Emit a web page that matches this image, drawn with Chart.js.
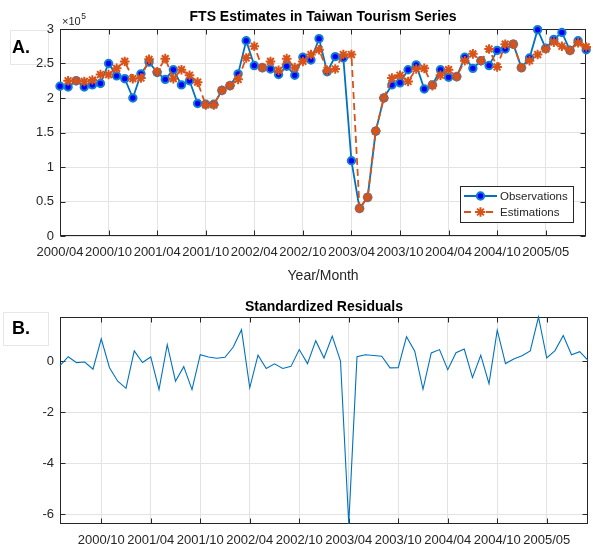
<!DOCTYPE html>
<html>
<head>
<meta charset="utf-8">
<title>FTS Estimates in Taiwan Tourism Series</title>
<script src="https://cdn.jsdelivr.net/npm/chart.js@4.4.1/dist/chart.umd.min.js"></script>
<style>
  html, body { margin: 0; padding: 0; background: #fff; }
  #wrap { position: relative; width: 593px; height: 548px; }
  canvas { position: absolute; left: 0; }
  #fts { top: 0; }
  #res { top: 290px; }
</style>
</head>
<body>
<div id="wrap">
  <canvas id="fts" width="593" height="290"></canvas>
  <canvas id="res" width="593" height="258"></canvas>
</div>
<script>
// Month index (0 = 2000/04) of each labelled tick, and its label
const tickPos = [0, 6, 12, 18, 24, 30, 36, 42, 48, 54, 60];
const tickLabels = ['2000/04', '2000/10', '2001/04', '2001/10', '2002/04', '2002/10',
                    '2003/04', '2003/10', '2004/04', '2004/10', '2005/05'];

// Monthly arrivals, observed (index 0..65)
const observations = [
  217000, 216000, 225000, 216000, 219000, 221000, 250000, 232000, 228000, 200000,
  235000, 252000, 237000, 227000, 241000, 219000, 225000, 192000, 191000, 191000,
  211000, 218000, 235000, 283000, 247000, 244000, 242000, 234000, 246000, 233000,
  259000, 255000, 286000, 238000, 260000, 258000, 109000, 40000, 56000, 152000,
  200000, 219000, 222000, 241000, 248000, 213000, 219000, 241000, 230000, 231000,
  259000, 243000, 254000, 247000, 269000, 271000, 278000, 244000, 258000, 299000,
  272000, 285000, 295000, 269000, 283000, 270000
];

// One-step estimates (no estimate for the first month)
const estimations = [
  null,   225000, 225000, 224000, 226000, 234000, 234000, 243000, 253000, 228000,
  229000, 256000, 238000, 257000, 228000, 241000, 233000, 223000, 190000, 190000,
  211000, 218000, 227000, 258000, 275000, 244000, 253000, 240000, 257000, 244000,
  253000, 263000, 270000, 240000, 242000, 263000, 263000, 40000, 56000, 152000,
  200000, 229000, 233000, 224000, 242000, 243000, 218000, 233000, 241000, 231000,
  254000, 264000, 254000, 271000, 245000, 278000, 278000, 244000, 254000, 263000,
  271000, 281000, 275000, 269000, 280000, 274000
];

// Standardized residuals (index 1..65)
const residuals = [
  null,  -0.17,  0.18, -0.05, -0.03, -0.31,  0.88, -0.25, -0.78, -1.06,
   0.41, -0.05,  0.17, -1.11,  0.65, -0.78, -0.21, -1.11,  0.26,  0.17,
   0.12,  0.16,  0.56,  1.24, -1.04,  0.24, -0.28, -0.10, -0.28, -0.20,
   0.46, -0.09,  0.81,  0.13,  0.99,  0.01, -6.39,  0.18,  0.26,  0.23,
   0.20, -0.26, -0.25,  0.97,  0.40, -1.10,  0.33,  0.46, -0.33,  0.34,
   0.48, -0.64,  0.24, -0.88,  1.22, -0.09,  0.09,  0.22,  0.41,  1.74,
   0.13,  0.42,  1.01,  0.26,  0.38,  0.04
];

const ftsTicks = [0, 50000, 100000, 150000, 200000, 250000, 300000];
const resTicks = [-6, -4, -2, 0];

const FONT = "'Liberation Sans', Arial, Helvetica, sans-serif";
const AXIS = '#262626';
const GRID = '#e3e3e3';
const BLUE = '#0072BD';
const ORANGE = '#D95319';

const toPoints = arr => arr.map((v, i) => ({ x: i, y: v })).filter(p => p.y !== null);
const fixTicks = values => scale => { scale.ticks = values.map(v => ({ value: v })); };

// Panel tag box (outline only), drawn before the axes so tick labels stay visible
function panelTag(ctx, text, x, y, w, h) {
  ctx.save();
  ctx.strokeStyle = '#e6e6e6';
  ctx.lineWidth = 1;
  ctx.strokeRect(x + 0.5, y + 0.5, w, h);
  ctx.fillStyle = '#000';
  ctx.font = 'bold 18px ' + FONT;
  ctx.textAlign = 'left';
  ctx.textBaseline = 'middle';
  ctx.fillText(text, 12, y + h / 2 + 1);
  ctx.restore();
}

// Box, inward tick marks (drawn beneath the data)
const axesBox = {
  id: 'axesBox',
  beforeDraw(chart, args, opts) {
    if (opts.tag) panelTag(chart.ctx, opts.tag.text, ...opts.tag.rect);
  },
  beforeDatasetsDraw(chart) {
    const { ctx, chartArea: a, scales } = chart;
    const L = Math.round(a.left) + 0.5, R = Math.round(a.right) - 0.5;
    const T = Math.round(a.top) + 0.5, B = Math.round(a.bottom) - 0.5;
    const len = 5;
    ctx.save();
    ctx.strokeStyle = AXIS;
    ctx.lineWidth = 1;
    ctx.beginPath();
    scales.x.ticks.forEach(t => {
      const px = Math.round(scales.x.getPixelForValue(t.value)) + 0.5;
      ctx.moveTo(px, B); ctx.lineTo(px, B - len);
      ctx.moveTo(px, T); ctx.lineTo(px, T + len);
    });
    scales.y.ticks.forEach(t => {
      const py = Math.round(scales.y.getPixelForValue(t.value)) + 0.5;
      ctx.moveTo(L, py); ctx.lineTo(L + len, py);
      ctx.moveTo(R, py); ctx.lineTo(R - len, py);
    });
    ctx.stroke();
    ctx.strokeRect(L, T, R - L, B - T);
    ctx.restore();
  }
};

function title(chart, text, y) {
  const { ctx, chartArea: a } = chart;
  ctx.save();
  ctx.fillStyle = '#000';
  ctx.font = 'bold 14px ' + FONT;
  ctx.textAlign = 'center';
  ctx.textBaseline = 'middle';
  ctx.fillText(text, (a.left + a.right) / 2, y);
  ctx.restore();
}

// Title, exponent, axis label and legend of the estimates panel
const ftsDecor = {
  id: 'ftsDecor',
  afterDraw(chart) {
    const { ctx, chartArea: a } = chart;
    title(chart, 'FTS Estimates in Taiwan Tourism Series', 17);
    ctx.save();
    ctx.fillStyle = AXIS;
    ctx.textBaseline = 'alphabetic';
    ctx.textAlign = 'left';
    ctx.font = '11px ' + FONT;
    ctx.fillText('\u00d710', 62, 25);
    const w = ctx.measureText('\u00d710').width;
    ctx.font = '8.5px ' + FONT;
    ctx.fillText('5', 62 + w + 0.5, 19);
    ctx.font = '14px ' + FONT;
    ctx.textAlign = 'center';
    ctx.textBaseline = 'middle';
    ctx.fillText('Year/Month', (a.left + a.right) / 2, 276);
    ctx.restore();

    // legend
    ctx.save();
    ctx.fillStyle = '#fff';
    ctx.fillRect(460, 186, 113, 36);
    ctx.strokeStyle = AXIS;
    ctx.lineWidth = 1;
    ctx.strokeRect(460.5, 186.5, 113, 36);
    const rows = [
      { y: 196, text: 'Observations', ds: chart.data.datasets[1] },
      { y: 212, text: 'Estimations', ds: chart.data.datasets[0] }
    ];
    rows.forEach(r => {
      ctx.save();
      ctx.strokeStyle = r.ds.borderColor;
      ctx.lineWidth = r.ds.borderWidth;
      ctx.setLineDash(r.ds.borderDash || []);
      ctx.beginPath();
      ctx.moveTo(464, r.y); ctx.lineTo(497, r.y);
      ctx.stroke();
      ctx.restore();
      ctx.save();
      ctx.fillStyle = r.ds.pointBackgroundColor;
      ctx.strokeStyle = r.ds.pointBorderColor;
      ctx.lineWidth = r.ds.pointBorderWidth;
      ctx.beginPath();
      if (r.ds.pointStyle === 'circle') {
        ctx.arc(480.5, r.y, r.ds.pointRadius, 0, Math.PI * 2);
        ctx.fill(); ctx.stroke();
      } else {
        const rr = r.ds.pointRadius;
        for (let k = 0; k < 4; k++) {
          const ang = k * Math.PI / 4;
          ctx.moveTo(480.5 - rr * Math.cos(ang), r.y - rr * Math.sin(ang));
          ctx.lineTo(480.5 + rr * Math.cos(ang), r.y + rr * Math.sin(ang));
        }
        ctx.stroke();
      }
      ctx.restore();
      ctx.fillStyle = AXIS;
      ctx.font = '11.5px ' + FONT;
      ctx.textAlign = 'left';
      ctx.textBaseline = 'middle';
      ctx.fillText(r.text, 500, r.y + 0.5);
    });
    ctx.restore();
  }
};

const resDecor = {
  id: 'resDecor',
  afterDraw(chart) {
    title(chart, 'Standardized Residuals', 17);
  }
};

const tickFont = { family: FONT, size: 13 };

function xScale(min, height) {
  return {
    type: 'linear', min, max: 65,
    afterBuildTicks: fixTicks(tickPos.filter(p => p >= min)),
    afterFit: s => { s.height = height; },
    grid: { color: GRID, lineWidth: 1, drawTicks: false },
    border: { display: false },
    ticks: {
      callback: v => tickLabels[tickPos.indexOf(v)],
      font: tickFont, color: AXIS, padding: 9, maxRotation: 0, autoSkip: false
    }
  };
}

function yScale(min, max, values, fmt) {
  return {
    min, max,
    afterBuildTicks: fixTicks(values),
    afterFit: s => { s.width = 60; },
    grid: { color: GRID, lineWidth: 1, drawTicks: false },
    border: { display: false },
    ticks: { callback: fmt, font: tickFont, color: AXIS, padding: 6 }
  };
}

new Chart(document.getElementById('fts'), {
  type: 'line',
  data: {
    datasets: [
      {
        label: 'Estimations',
        data: toPoints(estimations),
        order: 0,
        borderColor: ORANGE, borderWidth: 1.8, borderDash: [7, 4],
        pointStyle: 'star', pointRadius: 4.8, pointBorderWidth: 2,
        pointBackgroundColor: ORANGE, pointBorderColor: ORANGE,
        tension: 0, clip: false
      },
      {
        label: 'Observations',
        data: toPoints(observations),
        order: 1,
        borderColor: BLUE, borderWidth: 1.8,
        pointStyle: 'circle', pointRadius: 3.7, pointBorderWidth: 2,
        pointBackgroundColor: '#0000FF', pointBorderColor: '#1380cf',
        tension: 0, clip: false
      }
    ]
  },
  options: {
    responsive: false, animation: false, devicePixelRatio: 1,
    layout: { padding: { top: 29, right: 4, left: 0, bottom: 0 } },
    plugins: {
      legend: { display: false }, tooltip: { enabled: false },
      axesBox: { tag: { text: 'A.', rect: [10, 30, 38, 34] } }
    },
    scales: {
      x: xScale(0, 54),
      y: yScale(0, 300000, ftsTicks, v => String(v / 100000))
    }
  },
  plugins: [axesBox, ftsDecor]
});

const resValues = residuals.filter(v => v !== null);
new Chart(document.getElementById('res'), {
  type: 'line',
  data: {
    datasets: [{
      label: 'Standardized Residuals',
      data: toPoints(residuals),
      borderColor: BLUE, borderWidth: 1.1,
      pointRadius: 0, tension: 0, clip: false
    }]
  },
  options: {
    responsive: false, animation: false, devicePixelRatio: 1,
    layout: { padding: { top: 27, right: 5, left: 0, bottom: 0 } },
    plugins: {
      legend: { display: false }, tooltip: { enabled: false },
      axesBox: { tag: { text: 'B.', rect: [3, 22, 45, 33] } }
    },
    scales: {
      x: xScale(1, 24),
      y: yScale(Math.min(...resValues), Math.max(...resValues), resTicks, v => String(v))
    }
  },
  plugins: [axesBox, resDecor]
});
</script>
</body>
</html>
